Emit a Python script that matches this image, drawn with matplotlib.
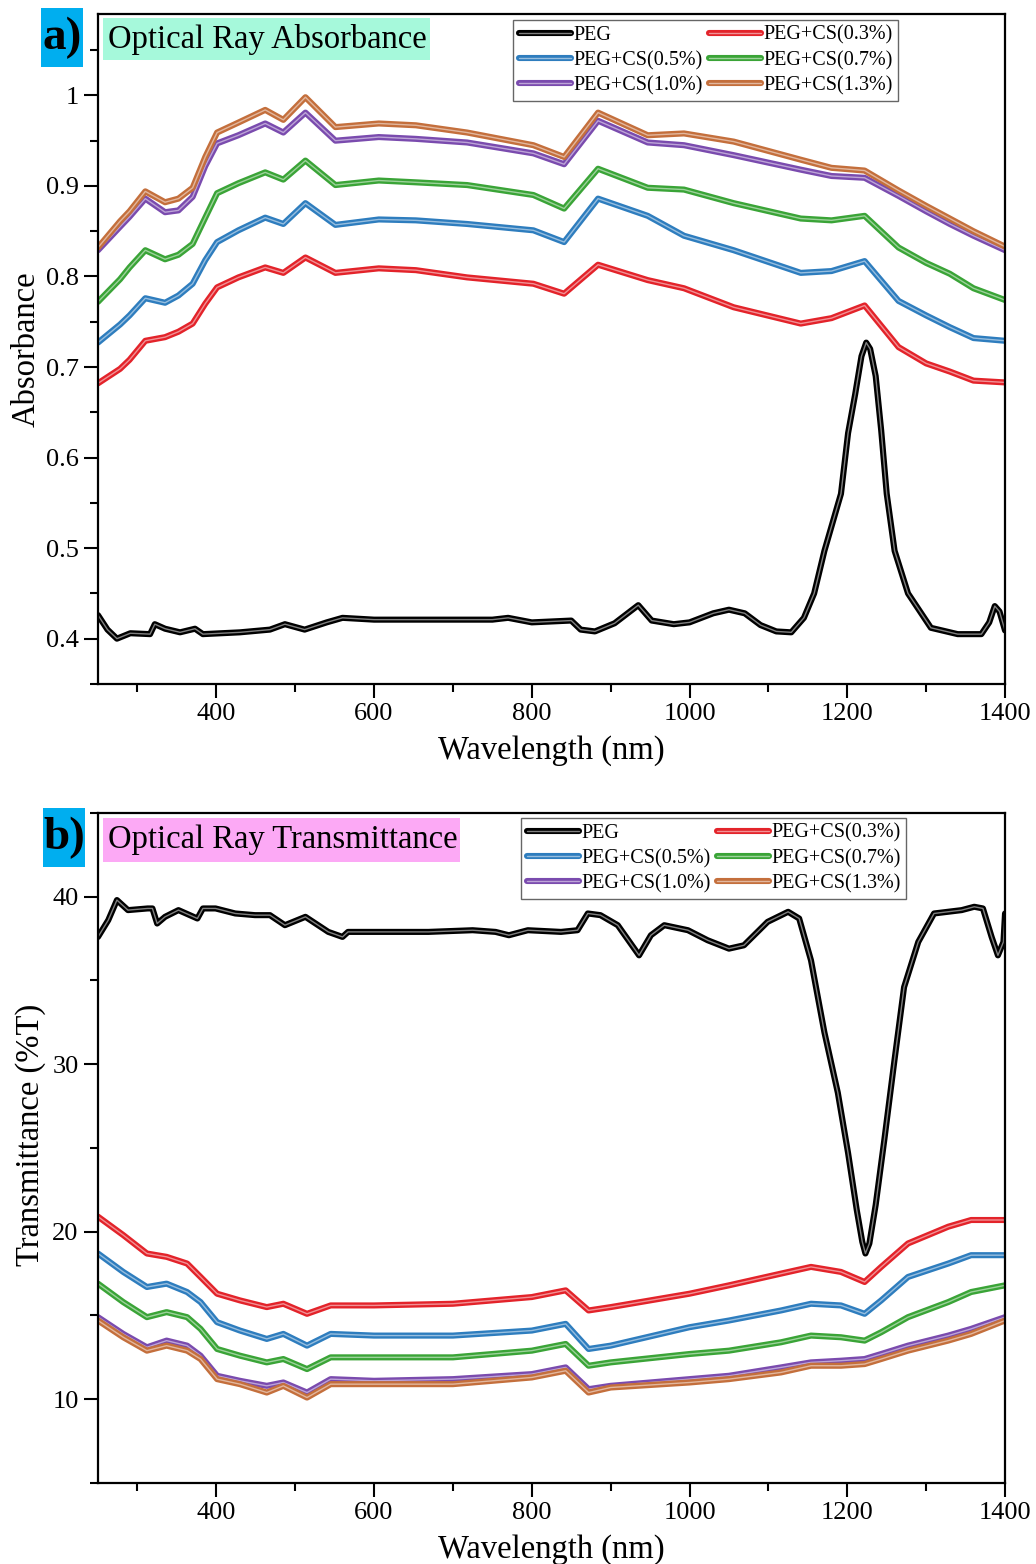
import matplotlib
matplotlib.use('Agg')
import matplotlib.pyplot as plt
import matplotlib.patheffects as pe
from matplotlib.patches import Rectangle
from matplotlib.ticker import MultipleLocator, FuncFormatter
from matplotlib.colors import to_rgb

plt.rcParams['font.family'] = ['Liberation Serif', 'DejaVu Serif']

labels = ['PEG', 'PEG+CS(0.3%)', 'PEG+CS(0.5%)', 'PEG+CS(0.7%)', 'PEG+CS(1.0%)', 'PEG+CS(1.3%)']
colors = ['#000000', '#E3232A', '#2E7DBE', '#3AA437', '#7A4BAE', '#C46F3C']

# ---- a) absorbance ----
wl_peg_a = [250, 262, 274, 291, 316, 322, 335, 354, 373, 383, 430, 468, 487, 512, 540, 560,
            600, 700, 750, 770, 800, 850, 862, 880, 905, 935, 952, 980, 1000, 1030, 1050,
            1070, 1090, 1110, 1129, 1145, 1158, 1171, 1192, 1201, 1210, 1218, 1224, 1229,
            1236, 1243, 1250, 1260, 1277, 1306, 1340, 1370, 1380, 1387, 1393, 1400]
abs_peg = [0.426, 0.410, 0.400, 0.406, 0.405, 0.416, 0.411, 0.407, 0.411, 0.405, 0.407, 0.410,
           0.416, 0.410, 0.418, 0.423, 0.421, 0.421, 0.421, 0.423, 0.418, 0.420, 0.410, 0.408,
           0.417, 0.437, 0.420, 0.416, 0.418, 0.428, 0.432, 0.428, 0.415, 0.408, 0.407, 0.423,
           0.450, 0.497, 0.560, 0.627, 0.670, 0.712, 0.727, 0.720, 0.690, 0.630, 0.560, 0.497,
           0.450, 0.412, 0.405, 0.405, 0.418, 0.436, 0.430, 0.409]

wl_a = [250, 278, 290, 310, 335, 352, 370, 386, 401, 428, 462, 485, 513, 551, 606, 653, 718,
        802, 841, 884, 947, 993, 1056, 1141, 1180, 1222, 1265, 1300, 1330, 1360, 1400]
abs_03 = [0.682, 0.698, 0.708, 0.729, 0.733, 0.739, 0.748, 0.770, 0.788, 0.799, 0.810, 0.804,
          0.821, 0.804, 0.809, 0.807, 0.799, 0.792, 0.781, 0.813, 0.796, 0.787, 0.766, 0.748,
          0.754, 0.768, 0.722, 0.704, 0.695, 0.685, 0.683]
abs_05 = [0.727, 0.747, 0.757, 0.776, 0.771, 0.779, 0.792, 0.818, 0.838, 0.851, 0.865, 0.858,
          0.881, 0.857, 0.863, 0.862, 0.858, 0.851, 0.838, 0.886, 0.867, 0.845, 0.829, 0.804,
          0.806, 0.817, 0.773, 0.757, 0.744, 0.732, 0.729]
abs_07 = [0.772, 0.797, 0.810, 0.829, 0.819, 0.824, 0.836, 0.865, 0.892, 0.903, 0.915, 0.907,
          0.928, 0.901, 0.906, 0.904, 0.901, 0.890, 0.875, 0.919, 0.898, 0.896, 0.881, 0.864,
          0.862, 0.867, 0.832, 0.815, 0.803, 0.787, 0.774]
abs_10 = [0.829, 0.855, 0.866, 0.886, 0.871, 0.873, 0.888, 0.922, 0.947, 0.956, 0.969, 0.959,
          0.981, 0.950, 0.954, 0.952, 0.948, 0.936, 0.924, 0.972, 0.948, 0.945, 0.934, 0.918,
          0.911, 0.909, 0.889, 0.872, 0.858, 0.845, 0.829]
abs_13 = [0.832, 0.861, 0.872, 0.894, 0.882, 0.886, 0.898, 0.932, 0.959, 0.970, 0.984, 0.973,
          0.998, 0.965, 0.969, 0.967, 0.959, 0.945, 0.932, 0.981, 0.956, 0.958, 0.949, 0.929,
          0.920, 0.917, 0.895, 0.878, 0.864, 0.850, 0.833]

# ---- b) transmittance ----
wl_peg_b = [250, 263, 274, 288, 313, 319, 325, 335, 352, 376, 383, 399, 424, 449, 468, 487, 513,
            542, 560, 567, 669, 725, 754, 771, 795, 837, 858, 871, 887, 909, 936, 951, 968, 998,
            1023, 1050, 1069, 1099, 1125, 1139, 1154, 1171, 1188, 1201, 1212, 1219, 1223, 1228,
            1236, 1247, 1260, 1272, 1290, 1310, 1345, 1361, 1372, 1383, 1391, 1398, 1400]
tr_peg = [37.6, 38.6, 39.8, 39.2, 39.3, 39.3, 38.4, 38.8, 39.2, 38.7, 39.3, 39.3, 39.0, 38.9,
          38.9, 38.3, 38.8, 37.9, 37.6, 37.9, 37.9, 38.0, 37.9, 37.7, 38.0, 37.9, 38.0, 39.0,
          38.9, 38.3, 36.5, 37.7, 38.3, 38.0, 37.4, 36.9, 37.1, 38.5, 39.1, 38.7, 36.2, 31.9,
          28.3, 24.7, 21.3, 19.4, 18.7, 19.3, 21.6, 25.5, 30.3, 34.6, 37.3, 39.0, 39.2, 39.4,
          39.3, 37.6, 36.5, 37.3, 39.0]

wl_b = [250, 282, 312, 337, 363, 380, 401, 430, 464, 485, 515, 545, 600, 700, 800, 843, 872,
        900, 1000, 1050, 1116, 1154, 1192, 1222, 1243, 1277, 1328, 1357, 1400]
tr_03 = [20.9, 19.8, 18.7, 18.5, 18.1, 17.3, 16.3, 15.9, 15.5, 15.7, 15.1, 15.6, 15.6, 15.7,
         16.1, 16.5, 15.3, 15.5, 16.3, 16.8, 17.5, 17.9, 17.6, 17.0, 17.9, 19.3, 20.3, 20.7, 20.7]
tr_05 = [18.7, 17.6, 16.7, 16.9, 16.4, 15.8, 14.6, 14.1, 13.6, 13.9, 13.2, 13.9, 13.8, 13.8,
         14.1, 14.5, 13.0, 13.2, 14.3, 14.7, 15.3, 15.7, 15.6, 15.1, 15.9, 17.3, 18.1, 18.6, 18.6]
tr_07 = [16.9, 15.8, 14.9, 15.2, 14.9, 14.2, 13.0, 12.6, 12.2, 12.4, 11.8, 12.5, 12.5, 12.5,
         12.9, 13.3, 12.0, 12.2, 12.7, 12.9, 13.4, 13.8, 13.7, 13.5, 14.0, 14.9, 15.8, 16.4, 16.8]
tr_10 = [14.9, 13.9, 13.1, 13.5, 13.2, 12.6, 11.4, 11.1, 10.8, 11.0, 10.4, 11.2, 11.1, 11.2,
         11.5, 11.9, 10.6, 10.8, 11.2, 11.4, 11.9, 12.2, 12.3, 12.4, 12.7, 13.2, 13.8, 14.2, 14.9]
tr_13 = [14.7, 13.7, 12.9, 13.2, 12.9, 12.4, 11.2, 10.9, 10.4, 10.8, 10.1, 10.9, 10.9, 10.9,
         11.3, 11.7, 10.4, 10.7, 11.0, 11.2, 11.6, 12.0, 12.0, 12.1, 12.4, 12.9, 13.5, 13.9, 14.7]


def draw(ax, x, y, c, lab):
    inner = tuple(0.5 * v + 0.5 for v in to_rgb(c))
    ax.plot(x, y, color=inner, lw=1.0, label=lab, solid_capstyle='round',
            solid_joinstyle='round',
            path_effects=[pe.Stroke(linewidth=4.4, foreground=c, joinstyle='round',
                                    capstyle='round'), pe.Normal()])


def style(ax, ylab, fmt):
    ax.set_xlim(250, 1400)
    ax.xaxis.set_major_locator(MultipleLocator(200))
    ax.xaxis.set_minor_locator(MultipleLocator(100))
    ax.yaxis.set_major_formatter(FuncFormatter(fmt))
    ax.tick_params(which='both', direction='out', width=1.5, labelsize=19,
                   top=False, right=False, pad=4)
    ax.tick_params(which='major', length=10)
    ax.tick_params(which='minor', length=6)
    for s in ax.spines.values():
        s.set_linewidth(1.6)
    ax.set_xlabel('Wavelength (nm)', fontsize=23.5)
    ax.xaxis.set_label_coords(0.5, -0.076)
    ax.set_ylabel(ylab, fontsize=23.5)


def add_legend(ax, x, y):
    h, l = ax.get_legend_handles_labels()
    order = [0, 2, 4, 1, 3, 5]
    leg = ax.legend([h[i] for i in order], [l[i] for i in order], ncol=2,
                    loc='upper right', bbox_to_anchor=(x, y), fontsize=14.5,
                    fancybox=False, edgecolor='#666666', framealpha=1,
                    handlelength=2.6, handletextpad=0.1, columnspacing=0.3,
                    labelspacing=0.3, borderpad=0.28, borderaxespad=0)
    leg.get_frame().set_linewidth(1.0)


fig = plt.figure(figsize=(10.36, 15.64), dpi=100)
ax1 = fig.add_axes([0.0946, 0.5627, 0.8755, 0.4284])
ax2 = fig.add_axes([0.0946, 0.0518, 0.8755, 0.4284])

draw(ax1, wl_peg_a, abs_peg, colors[0], labels[0])
for ys, c, lab in zip([abs_03, abs_05, abs_07, abs_10, abs_13], colors[1:], labels[1:]):
    draw(ax1, wl_a, ys, c, lab)
ax1.set_ylim(0.35, 1.09)
ax1.yaxis.set_major_locator(MultipleLocator(0.1))
ax1.yaxis.set_minor_locator(MultipleLocator(0.05))
style(ax1, 'Absorbance', lambda v, p: '%g' % round(v, 2))
ax1.yaxis.set_label_coords(-0.062, 0.5)
add_legend(ax1, 0.882, 0.991)

draw(ax2, wl_peg_b, tr_peg, colors[0], labels[0])
for ys, c, lab in zip([tr_03, tr_05, tr_07, tr_10, tr_13], colors[1:], labels[1:]):
    draw(ax2, wl_b, ys, c, lab)
ax2.set_ylim(5, 45)
ax2.yaxis.set_major_locator(MultipleLocator(10))
ax2.yaxis.set_minor_locator(MultipleLocator(5))
style(ax2, 'Transmittance (%T)', lambda v, p: '%g' % v)
ax2.yaxis.set_label_coords(-0.057, 0.52)
add_legend(ax2, 0.891, 0.9925)

# title boxes inside the axes
ax1.add_patch(Rectangle((0.0055, 0.931), 0.3605, 0.063, transform=ax1.transAxes,
                        facecolor='#A6F9DB', edgecolor='none', zorder=3))
ax1.text(0.011, 0.9625, 'Optical Ray Absorbance', transform=ax1.transAxes,
         va='center', ha='left', fontsize=23.5, zorder=4)
ax2.add_patch(Rectangle((0.0055, 0.927), 0.394, 0.0655, transform=ax2.transAxes,
                        facecolor='#FCA9F5', edgecolor='none', zorder=3))
ax2.text(0.011, 0.96, 'Optical Ray Transmittance', transform=ax2.transAxes,
         va='center', ha='left', fontsize=23.5, zorder=4)

# panel letters
for (bx, by, txt) in [(0.0396, 0.9572, 'a)'), (0.0415, 0.4457, 'b)')]:
    fig.patches.append(Rectangle((bx, by), 0.0405, 0.0377, transform=fig.transFigure,
                                 facecolor='#00AEEF', edgecolor='none', figure=fig))
    fig.text(bx + 0.0205, by + 0.0185, txt, ha='center', va='center',
             fontsize=34, fontweight='bold')

fig.savefig('out.png', dpi=100)
